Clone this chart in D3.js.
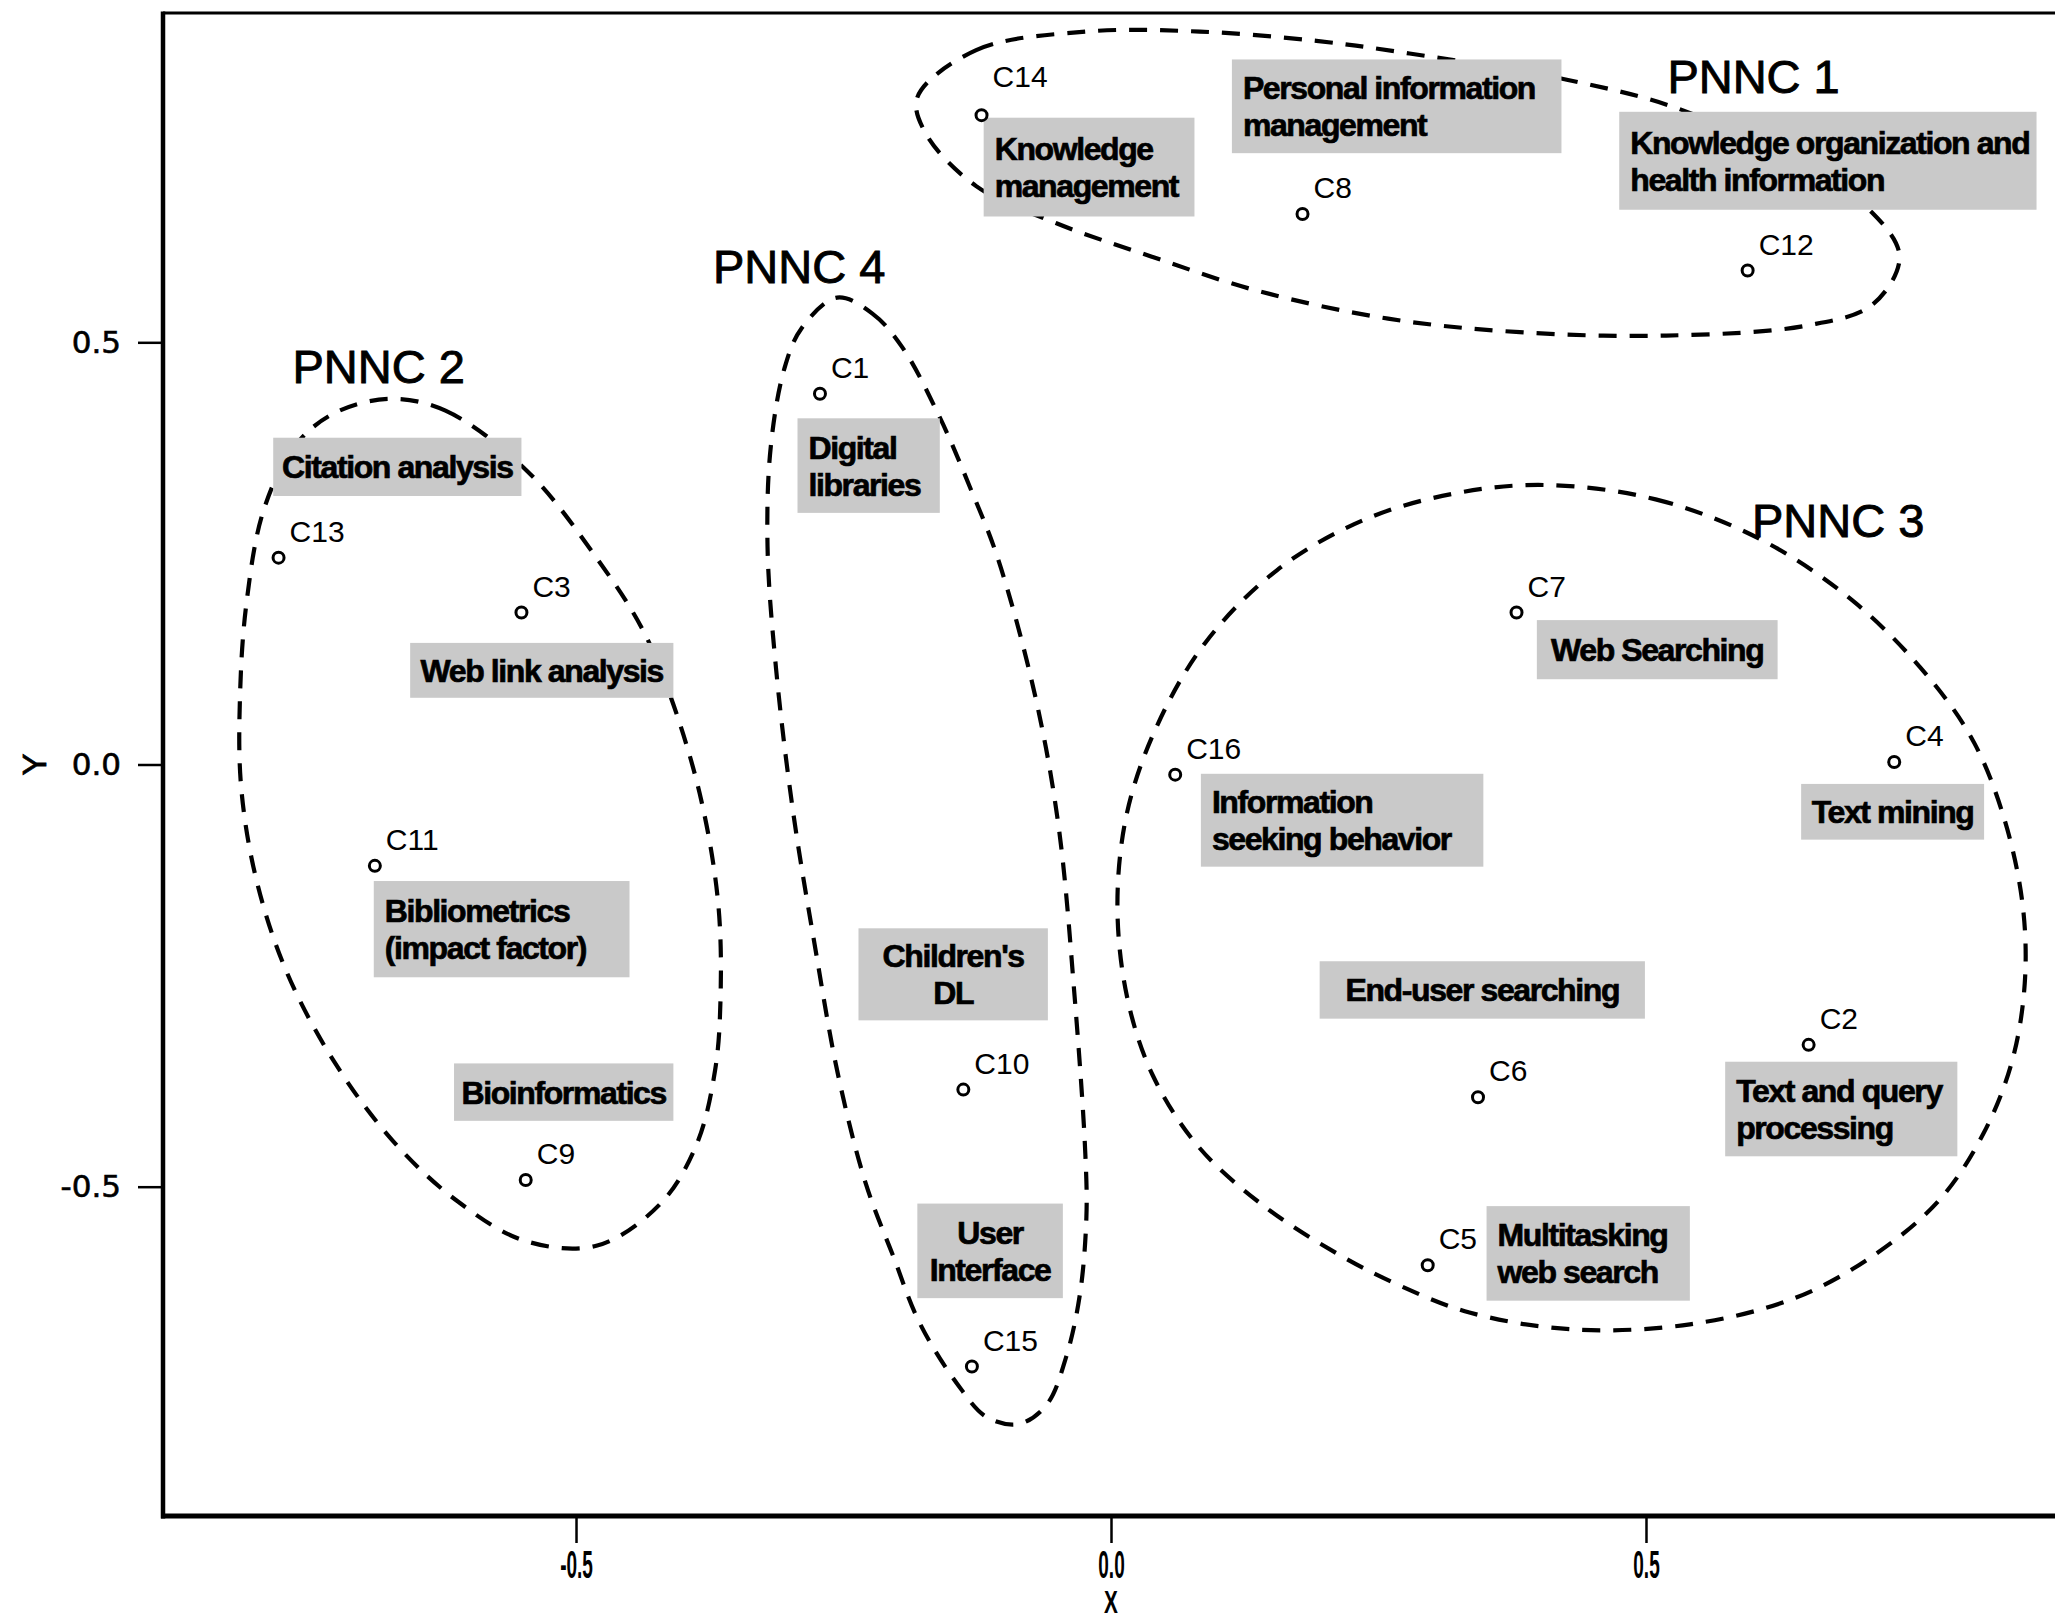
<!DOCTYPE html>
<html><head><meta charset="utf-8">
<script src="https://cdn.jsdelivr.net/npm/d3@7"></script>
<style>html,body{margin:0;padding:0;background:#fff;} svg{display:block}</style>
</head><body>
<svg id="chart" width="2055" height="1622"></svg>
<script>
// ---- data ----
const pointNames = ["C1","C2","C3","C4","C5","C6","C7","C8","C9","C10","C11","C12","C13","C14","C15","C16"];
const pointX = [-0.272, 0.652, -0.551, 0.732, 0.296, 0.343, 0.379, 0.179, -0.547, -0.138, -0.688, 0.595, -0.778, -0.121, -0.130, 0.060];
const pointY = [0.439, -0.332, 0.180, 0.003, -0.593, -0.394, 0.180, 0.652, -0.492, -0.385, -0.120, 0.585, 0.245, 0.769, -0.713, -0.012];

const xTicks = [-0.5, 0.0, 0.5];
const xTickLabels = ["-0.5", "0.0", "0.5"];
const yTicks = [-0.5, 0.0, 0.5];
const yTickLabels = ["-0.5", "0.0", "0.5"];
const xTitle = "X";
const yTitle = "Y";

const clusterNames = ["PNNC 1", "PNNC 2", "PNNC 3", "PNNC 4"];
const clusterLabelX = [0.520, -0.765, 0.599, -0.372];
const clusterLabelY = [0.795, 0.452, 0.269, 0.570];
const outlinePNNC1 = [[-0.181,0.790],[-0.126,0.846],[-0.023,0.868],[0.083,0.868],[0.192,0.857],[0.279,0.842],[0.426,0.811],[0.534,0.775],[0.639,0.711],[0.711,0.654],[0.737,0.601],[0.712,0.545],[0.651,0.520],[0.519,0.508],[0.382,0.512],[0.259,0.528],[0.137,0.561],[0.039,0.601],[-0.051,0.641],[-0.126,0.685],[-0.173,0.747]];
const outlinePNNC2 = [[-0.674,0.433],[-0.622,0.419],[-0.546,0.348],[-0.481,0.245],[-0.437,0.158],[-0.409,0.071],[-0.383,-0.042],[-0.367,-0.166],[-0.365,-0.280],[-0.370,-0.362],[-0.387,-0.449],[-0.421,-0.520],[-0.481,-0.570],[-0.548,-0.564],[-0.611,-0.517],[-0.671,-0.446],[-0.726,-0.352],[-0.771,-0.244],[-0.799,-0.135],[-0.813,-0.026],[-0.814,0.082],[-0.808,0.191],[-0.792,0.301],[-0.763,0.377],[-0.726,0.416]];
const outlinePNNC3 = [[0.406,0.331],[0.509,0.314],[0.608,0.266],[0.696,0.191],[0.767,0.099],[0.807,0.025],[0.835,-0.065],[0.852,-0.166],[0.854,-0.259],[0.842,-0.352],[0.815,-0.438],[0.774,-0.516],[0.712,-0.582],[0.639,-0.632],[0.541,-0.663],[0.431,-0.669],[0.335,-0.649],[0.268,-0.616],[0.211,-0.579],[0.143,-0.523],[0.082,-0.453],[0.039,-0.368],[0.015,-0.275],[0.006,-0.166],[0.015,-0.057],[0.042,0.043],[0.088,0.144],[0.155,0.230],[0.235,0.289],[0.321,0.321]];
const outlinePNNC4 = [[-0.256,0.553],[-0.223,0.534],[-0.195,0.494],[-0.160,0.411],[-0.132,0.329],[-0.106,0.245],[-0.071,0.082],[-0.049,-0.073],[-0.034,-0.275],[-0.024,-0.461],[-0.023,-0.536],[-0.029,-0.627],[-0.042,-0.702],[-0.060,-0.758],[-0.086,-0.781],[-0.116,-0.773],[-0.144,-0.733],[-0.179,-0.661],[-0.203,-0.584],[-0.229,-0.497],[-0.255,-0.368],[-0.277,-0.213],[-0.297,-0.057],[-0.313,0.113],[-0.321,0.258],[-0.318,0.376],[-0.305,0.470],[-0.289,0.517]];
const clusterOutlines = [outlinePNNC1, outlinePNNC2, outlinePNNC3, outlinePNNC4];

// topic boxes (extent in data units) and their text
const topicLines = [
  ["Personal information","management"],
  ["Knowledge","management"],
  ["Knowledge organization and","health information"],
  ["Citation analysis"],
  ["Web link analysis"],
  ["Digital","libraries"],
  ["Bibliometrics","(impact factor)"],
  ["Bioinformatics"],
  ["Children's","DL"],
  ["User","Interface"],
  ["Web Searching"],
  ["Information","seeking behavior"],
  ["Text mining"],
  ["End-user searching"],
  ["Text and query","processing"],
  ["Multitasking","web search"]
];
const topicX0 = [0.113, -0.119, 0.475, -0.783, -0.655, -0.293, -0.689, -0.614, -0.236, -0.181, 0.398, 0.084, 0.645, 0.195, 0.574, 0.351];
const topicX1 = [0.421, 0.078, 0.865, -0.551, -0.409, -0.160, -0.450, -0.409, -0.059, -0.045, 0.623, 0.348, 0.816, 0.499, 0.791, 0.541];
const topicY0 = [0.835, 0.766, 0.773, 0.387, 0.144, 0.410, -0.138, -0.354, -0.194, -0.520, 0.171, -0.011, -0.023, -0.233, -0.352, -0.523];
const topicY1 = [0.724, 0.649, 0.657, 0.318, 0.079, 0.298, -0.252, -0.422, -0.303, -0.632, 0.101, -0.121, -0.089, -0.301, -0.464, -0.635];
const topicAlign = ["left","left","left","center","center","left","left","center","center","center","center","left","center","center","left","left"];

// ---- layout tweaks (pixels) ----
const labelNudgeY = {C14: -12};

// ---- drawing ----
const svg = d3.select("#chart");
const x = d3.scaleLinear().domain([-0.886, 0.886]).range([163, 2059]);
const y = d3.scaleLinear().domain([-0.89, 0.89]).range([1516, 13]);

// axes
const xAxis = d3.axisBottom(x).tickValues(xTicks).tickSize(27).tickFormat((d, i) => xTickLabels[i]);
const gx = svg.append("g").attr("transform", `translate(0,${y.range()[0]})`).call(xAxis);
gx.select(".domain").remove();
gx.selectAll(".tick line").attr("stroke", "#000").attr("stroke-width", 2.5);
gx.selectAll(".tick text")
  .attr("y", 62).attr("dy", null)
  .attr("transform", "scale(0.5,1)")
  .style("font-family", "'Liberation Sans', Arial, sans-serif")
  .style("font-weight", "bold")
  .style("font-size", "38px").attr("fill", "#000");

const yAxis = d3.axisLeft(y).tickValues(yTicks).tickSize(25).tickPadding(17).tickFormat((d, i) => yTickLabels[i]);
const gy = svg.append("g").attr("transform", `translate(${x.range()[0]},0)`).call(yAxis);
gy.select(".domain").remove();
gy.selectAll(".tick line").attr("stroke", "#000").attr("stroke-width", 2.5);
gy.selectAll(".tick text")
  .style("font-family", "'DejaVu Sans', sans-serif")
  .style("font-size", "31px").attr("fill", "#000")
  .attr("stroke", "#000").attr("stroke-width", 0.6);

// frame
const [xl, xr] = x.range();
const [yb, yt] = y.range();
svg.append("line").attr("x1", xl).attr("x2", xl).attr("y1", yt - 1.5).attr("y2", yb + 2.5).attr("stroke", "#000").attr("stroke-width", 4.5);
svg.append("line").attr("x1", xl - 2).attr("x2", xr).attr("y1", yb).attr("y2", yb).attr("stroke", "#000").attr("stroke-width", 5);
svg.append("line").attr("x1", xl).attr("x2", xr).attr("y1", yt).attr("y2", yt).attr("stroke", "#000").attr("stroke-width", 3);
svg.append("line").attr("x1", xr).attr("x2", xr).attr("y1", yt).attr("y2", yb).attr("stroke", "#000").attr("stroke-width", 3);

// axis titles
svg.append("text").text(xTitle)
  .attr("transform", `translate(${x(0)},1613) scale(0.65,1)`)
  .attr("text-anchor", "middle")
  .style("font-family", "'Liberation Sans', Arial, sans-serif").style("font-weight", "bold")
  .style("font-size", "32px").attr("fill", "#000");
svg.append("text").text(yTitle)
  .attr("transform", `translate(46,${y(0)}) rotate(-90)`)
  .attr("text-anchor", "middle")
  .style("font-family", "'Liberation Sans', Arial, sans-serif").style("font-size", "33px")
  .attr("fill", "#000").attr("stroke", "#000").attr("stroke-width", 0.8);

// cluster outlines
const line = d3.line().x(d => x(d[0])).y(d => y(d[1])).curve(d3.curveCatmullRomClosed.alpha(0.5));
svg.append("g").selectAll("path").data(clusterOutlines).join("path")
  .attr("d", line)
  .attr("fill", "none").attr("stroke", "#000").attr("stroke-width", 4.2)
  .attr("stroke-dasharray", "18 13");

// topic boxes
const fontBox = "'Liberation Sans', Arial, sans-serif";
const lineH = 37;
const topics = topicLines.map((lines, i) => ({lines, x0: topicX0[i], x1: topicX1[i], y0: topicY0[i], y1: topicY1[i], align: topicAlign[i]}));
const tg = svg.append("g").selectAll("g").data(topics).join("g");
tg.append("rect")
  .attr("x", d => x(d.x0)).attr("y", d => y(d.y0))
  .attr("width", d => x(d.x1) - x(d.x0)).attr("height", d => y(d.y1) - y(d.y0))
  .attr("fill", "#c9c9c9");
tg.each(function(d) {
  const g = d3.select(this);
  const bx0 = x(d.x0), bx1 = x(d.x1);
  const cy = (y(d.y0) + y(d.y1)) / 2;
  const n = d.lines.length;
  const cap = 23;
  const first = cy - ((n - 1) * lineH + cap) / 2 + cap;
  d.lines.forEach((t, k) => {
    g.append("text").text(t)
      .attr("x", d.align === "left" ? bx0 + 11 : (bx0 + bx1) / 2)
      .attr("y", first + k * lineH)
      .attr("text-anchor", d.align === "left" ? "start" : "middle")
      .style("font-family", fontBox).style("font-weight", "bold")
      .style("font-size", "32px").style("letter-spacing", "-1.4px")
      .attr("fill", "#000").attr("stroke", "#000").attr("stroke-width", 0.7);
  });
});

// cluster names
svg.append("g").selectAll("text").data(clusterNames).join("text")
  .text(d => d)
  .attr("x", (d, i) => x(clusterLabelX[i])).attr("y", (d, i) => y(clusterLabelY[i]))
  .style("font-family", "'Liberation Sans', Arial, sans-serif").style("font-size", "47px")
  .attr("fill", "#000").attr("stroke", "#000").attr("stroke-width", 0.9);

// points
const pts = pointNames.map((n, i) => ({n, x: pointX[i], y: pointY[i]}));
svg.append("g").selectAll("circle").data(pts).join("circle")
  .attr("cx", d => x(d.x)).attr("cy", d => y(d.y)).attr("r", 5.5)
  .attr("fill", "#fff").attr("stroke", "#000").attr("stroke-width", 3);
svg.append("g").selectAll("text").data(pts).join("text")
  .text(d => d.n)
  .attr("x", d => x(d.x) + 11).attr("y", d => y(d.y) - 16 + (labelNudgeY[d.n] || 0))
  .style("font-family", "'Liberation Sans', Arial, sans-serif").style("font-size", "30px")
  .attr("fill", "#000");
</script>
</body></html>
